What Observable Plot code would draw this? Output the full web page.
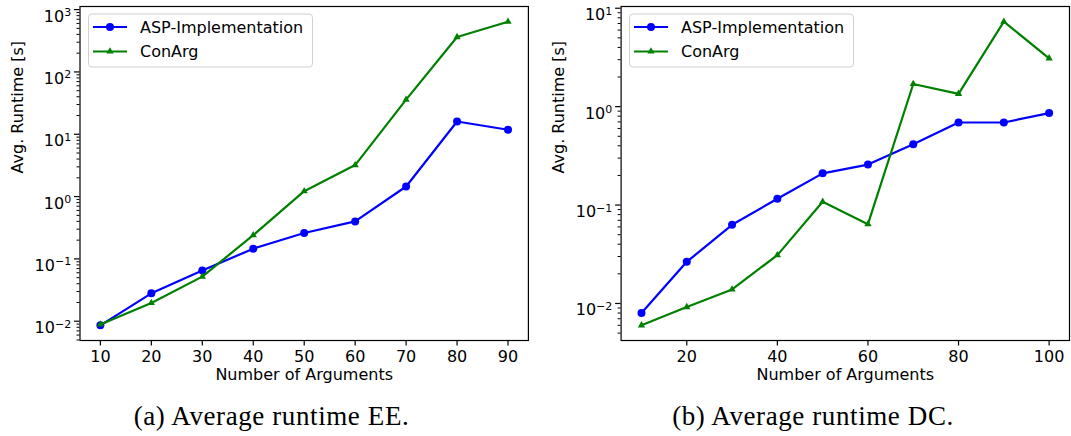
<!DOCTYPE html>
<html><head><meta charset="utf-8">
<script src="https://cdn.jsdelivr.net/npm/d3@7"></script>
<script src="https://cdn.jsdelivr.net/npm/@observablehq/plot@0.6"></script>
<style>
body{margin:0;background:#fff;}
#wrap{position:relative;width:1071px;height:436px;overflow:hidden;font-family:"DejaVu Sans",sans-serif;background:#fff;}
.panel{position:absolute;top:0;}
.overlay{position:absolute;top:0;pointer-events:none;}
.caption{position:absolute;width:420px;text-align:center;font-family:"Liberation Serif",serif;font-size:27px;letter-spacing:0.6px;line-height:30px;color:#000;white-space:nowrap;}
</style></head>
<body><div id="wrap"></div>
<script>
// ---- data ----
const seriesNames = ["ASP-Implementation", "ConArg"];
const seriesColors = ["#0000ff", "#008000"];

const eeArgs = [10, 20, 30, 40, 50, 60, 70, 80, 90];
const eeASP = [0.0086, 0.028, 0.065, 0.146, 0.26, 0.40, 1.45, 16, 11.8];
const eeConArg = [0.0089, 0.0196, 0.052, 0.24, 1.22, 3.2, 36, 363, 640];

const dcArgs = [10, 20, 30, 40, 50, 60, 70, 80, 90, 100];
const dcASP = [0.008, 0.0265, 0.063, 0.116, 0.21, 0.258, 0.414, 0.69, 0.69, 0.86];
const dcConArg = [0.006, 0.0092, 0.0139, 0.031, 0.108, 0.064, 1.7, 1.35, 7.3, 3.1];

const eeXTicks = [10, 20, 30, 40, 50, 60, 70, 80, 90];
const dcXTicks = [20, 40, 60, 80, 100];
const eeYTicks = [1e-2, 1e-1, 1, 10, 100, 1000];
const dcYTicks = [1e-2, 1e-1, 1, 10];

const xLabel = "Number of Arguments";
const yLabel = "Avg. Runtime [s]";
const captions = ["(a) Average runtime EE.", "(b) Average runtime DC."];

// ---- helpers ----
const wrap = document.getElementById("wrap");
const FONT = "DejaVu Sans";

function padLinear(vals) {
  const [a, b] = d3.extent(vals); const m = 0.05 * (b - a);
  return [a - m, b + m];
}
function padLog(vals) {
  const [a, b] = d3.extent(vals).map(Math.log10); const m = 0.05 * (b - a);
  return [Math.pow(10, a - m), Math.pow(10, b + m)];
}
function minorTicks(domain) {
  const out = [];
  const k0 = Math.floor(Math.log10(domain[0])), k1 = Math.ceil(Math.log10(domain[1]));
  for (let k = k0; k <= k1; k++) for (let m = 2; m <= 9; m++) {
    const v = m * Math.pow(10, k);
    if (v >= domain[0] && v <= domain[1]) out.push(v);
  }
  return out;
}
function expLabel(d) {
  const e = Math.round(Math.log10(d));
  return e < 0 ? "\u2212" + (-e) : String(e);
}

function makePanel(cfg) {
  const {args, asp, con, xTicks, yTicks, left, width, marginLeft, marginRight, legendLeft} = cfg;
  const height = 400, marginTop = 6, marginBottom = 60;
  const aspRows = args.map((x, i) => ({x, y: asp[i], s: seriesNames[0]}));
  const conRows = args.map((x, i) => ({x, y: con[i], s: seriesNames[1]}));
  const xDomain = padLinear(args);
  const yDomain = padLog(asp.concat(con));

  const svg = Plot.plot({
    width, height, marginLeft, marginRight, marginTop, marginBottom,
    style: {fontFamily: FONT, fontSize: "16px", color: "black", background: "transparent", overflow: "visible"},
    x: {domain: xDomain, label: null},
    y: {type: "log", domain: yDomain, label: null},
    color: {domain: seriesNames, range: seriesColors},
    marks: [
      Plot.axisY(minorTicks(yDomain), {tickSize: 3, strokeWidth: 1, tickFormat: () => "", label: null}),
      Plot.axisY(yTicks, {tickSize: 5.5, strokeWidth: 1.2, tickPadding: 3.3, tickFormat: expLabel, label: null, fill: "black"}),
      Plot.axisX(xTicks, {tickSize: 5.5, strokeWidth: 1.2, tickPadding: 5, tickFormat: d => String(d), label: null, fill: "black"}),
      Plot.line(aspRows, {x: "x", y: "y", stroke: "s", strokeWidth: 2.2}),
      Plot.dot(aspRows, {x: "x", y: "y", fill: "s", r: 4, symbol: "circle"}),
      Plot.line(conRows, {x: "x", y: "y", stroke: "s", strokeWidth: 2.2}),
      Plot.dot(conRows, {x: "x", y: "y", fill: "s", r: 2.7, symbol: "triangle"}),
      Plot.frame({stroke: "black", strokeWidth: 1.2}),
      Plot.text([xLabel], {frameAnchor: "bottom", dy: 39.5, fill: "black", fontSize: 16}),
      Plot.text([yLabel], {frameAnchor: "left", rotate: -90, dx: -62.5, fill: "black", fontSize: 16})
    ]
  });
  svg.classList.add("panel");
  svg.style.left = left + "px";
  wrap.appendChild(svg);

  // superscript exponents on y tick labels (matplotlib-like 10^k), label box centred on tick
  svg.querySelectorAll('g[aria-label="y-axis tick label"] text').forEach(t => {
    const e = t.textContent;
    if (!e) return;
    t.textContent = "10";
    t.setAttribute("dy", "0.43em");
    const ts = document.createElementNS("http://www.w3.org/2000/svg", "tspan");
    ts.setAttribute("dy", "-5.5");
    ts.setAttribute("font-size", "11");
    ts.textContent = e;
    t.appendChild(ts);
  });

  // legend (upper left, inside the axes)
  const lg = d3.create("svg").attr("class", "overlay")
    .attr("width", 240).attr("height", 70)
    .style("left", legendLeft + "px").style("top", "13px");
  lg.append("rect").attr("x", 0.5).attr("y", 1).attr("width", 224).attr("height", 53)
    .attr("rx", 3.5).attr("fill", "rgba(255,255,255,0.8)").attr("stroke", "#d0d0d0").attr("stroke-width", 1);
  seriesNames.forEach((name, i) => {
    const cy = 14 + i * 24.5;
    lg.append("line").attr("x1", 5).attr("x2", 39).attr("y1", cy).attr("y2", cy)
      .attr("stroke", seriesColors[i]).attr("stroke-width", 2.2);
    if (i === 0) lg.append("circle").attr("cx", 22).attr("cy", cy).attr("r", 4).attr("fill", seriesColors[i]);
    else lg.append("path").attr("transform", `translate(22,${cy})`)
      .attr("d", d3.symbol(d3.symbolTriangle, 2.7 * 2.7 * Math.PI)()).attr("fill", seriesColors[i]);
    lg.append("text").attr("x", 52).attr("y", cy).attr("dy", "0.35em")
      .attr("font-family", FONT).attr("font-size", 16).attr("fill", "black").text(name);
  });
  wrap.appendChild(lg.node());
}

makePanel({args: eeArgs, asp: eeASP, con: eeConArg, xTicks: eeXTicks, yTicks: eeYTicks,
  left: 0, width: 540, marginLeft: 79.5, marginRight: 12.1, legendLeft: 88});
makePanel({args: dcArgs, asp: dcASP, con: dcConArg, xTicks: dcXTicks, yTicks: dcYTicks,
  left: 540, width: 531, marginLeft: 80.6, marginRight: 2, legendLeft: 629});

// captions
[[271.5, captions[0]], [813, captions[1]]].forEach(([cx, txt]) => {
  const d = document.createElement("div");
  d.className = "caption";
  d.style.left = (cx - 210) + "px";
  d.style.top = "401px";
  d.textContent = txt;
  wrap.appendChild(d);
});
</script>
</body></html>
